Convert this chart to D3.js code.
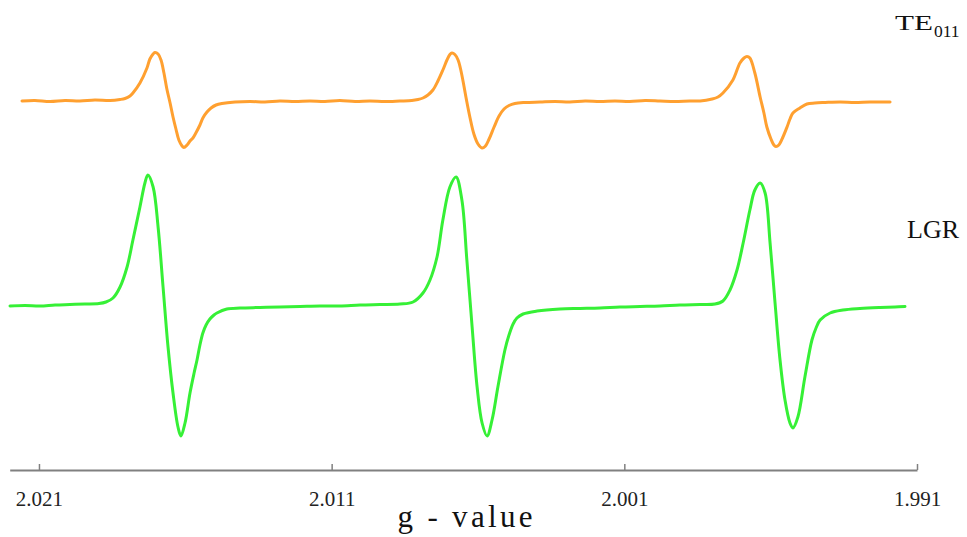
<!DOCTYPE html>
<html>
<head>
<meta charset="utf-8">
<script src="https://cdn.jsdelivr.net/npm/d3@7"></script>
<style>
  html, body { margin: 0; padding: 0; background: #fff; }
  svg { display: block; }
  .lbl { font-family: "Liberation Serif", "Times New Roman", "DejaVu Serif", serif; }
</style>
</head>
<body>
<svg id="chart" width="967" height="537"></svg>
<script>
// ---- data (g-value, intensity in a.u.) ----
const seriesNames = ["TE011", "LGR"];
const seriesColors = ["#ffa030", "#36f036"];
const seriesOffsets = [204, 0];

const teG = [2.02158,2.02114,2.02062,2.02011,2.01960,2.01909,2.01857,2.01823,2.01806,2.01789,2.01779,2.01755,2.01731,2.01721,2.01710,2.01704,2.01693,2.01683,2.01673,2.01663,2.01652,2.01642,2.01632,2.01622,2.01611,2.01605,2.01594,2.01584,2.01574,2.01564,2.01550,2.01540,2.01526,2.01512,2.01495,2.01475,2.01430,2.01379,2.01328,2.01277,2.01225,2.01174,2.01123,2.01072,2.01020,2.00969,2.00918,2.00867,2.00826,2.00805,2.00788,2.00771,2.00754,2.00737,2.00720,2.00706,2.00696,2.00689,2.00679,2.00668,2.00658,2.00648,2.00638,2.00627,2.00614,2.00600,2.00586,2.00576,2.00562,2.00545,2.00528,2.00511,2.00494,2.00474,2.00439,2.00388,2.00337,2.00286,2.00234,2.00183,2.00132,2.00081,2.00029,1.99978,1.99927,1.99876,1.99841,1.99800,1.99780,1.99763,1.99729,1.99705,1.99691,1.99681,1.99671,1.99654,1.99636,1.99623,1.99613,1.99599,1.99589,1.99582,1.99572,1.99558,1.99544,1.99534,1.99524,1.99500,1.99476,1.99449,1.99414,1.99363,1.99312,1.99261,1.99192];
const teI = [0,0.5,-0.5,0.5,0,1,0.5,1.5,2.5,5,8,18,33,42,47,48.5,47,41,28,12,-2,-16,-28,-39,-45,-46.5,-44,-40,-37,-32,-24,-17,-11,-7,-4,-2.5,-1,-0.5,-1,0,-0.5,0,-0.5,0.5,-0.5,0,-0.5,0,0.5,1.5,3,6,11,20,31,41,46.5,48,46.5,41,30,15,-1,-17,-33,-43,-47,-45.5,-38,-26,-15,-8,-4.5,-2.5,-1.5,-1,-0.5,-1,0,-0.5,0,-0.5,0.5,0,-0.5,0,0,2,4,8,21,38,43,44.5,43,28,4,-12,-26,-38,-44,-45.5,-44,-36,-26,-18,-12,-7,-3,-2,-1.5,-1,-1.5,-1,-1];

const lgrG = [2.02199,2.02148,2.02097,2.02045,2.01994,2.01943,2.01895,2.01871,2.01847,2.01823,2.01799,2.01779,2.01755,2.01738,2.01728,2.01710,2.01693,2.01676,2.01659,2.01642,2.01625,2.01615,2.01601,2.01584,2.01570,2.01560,2.01550,2.01540,2.01529,2.01516,2.01502,2.01492,2.01458,2.01413,2.01345,2.01277,2.01208,2.01140,2.01072,2.01003,2.00935,2.00867,2.00822,2.00788,2.00764,2.00740,2.00720,2.00696,2.00675,2.00655,2.00638,2.00620,2.00603,2.00586,2.00569,2.00552,2.00532,2.00508,2.00494,2.00480,2.00467,2.00446,2.00398,2.00320,2.00251,2.00183,2.00115,2.00046,1.99978,1.99910,1.99841,1.99790,1.99763,1.99739,1.99715,1.99694,1.99671,1.99654,1.99636,1.99619,1.99602,1.99585,1.99568,1.99551,1.99534,1.99524,1.99507,1.99483,1.99459,1.99445,1.99431,1.99397,1.99353,1.99295,1.99226,1.99175,1.99141];
const lgrI = [-1,-0.5,-1,0,0.5,1,1.5,3,7,18,38,65,98,122,130,118,78,18,-42,-88,-122,-131,-118,-88,-68,-55,-40,-28,-20,-14,-10,-8,-4,-3,-2.5,-2,-1.5,-1,-1,0,0.5,1,3,12,25,48,85,118,128,105,45,-22,-82,-118,-131,-115,-82,-45,-30,-19,-13,-9,-6,-4,-3.5,-3,-2,-1.5,-1,0,0.5,1,4,15,35,62,95,115,122,112,62,2,-55,-95,-118,-123,-112,-72,-35,-23,-15,-8,-5,-3.5,-2.5,-2,-1.5];

const tickValues = [2.021, 2.011, 2.001, 1.991];
const xTitle = "g - value";

// ---- scales ----
const svg = d3.select("#chart");
const x = d3.scaleLinear().domain([2.022, 1.991]).range([9.7, 917]);
const y = d3.scaleLinear().domain([-165, 305]).range([470, 0]);

const series = [
  { name: seriesNames[0], color: seriesColors[0], off: seriesOffsets[0], pts: teG.map((g, i) => [g, teI[i]]) },
  { name: seriesNames[1], color: seriesColors[1], off: seriesOffsets[1], pts: lgrG.map((g, i) => [g, lgrI[i]]) }
];

series.forEach(s => {
  const line = d3.line()
    .x(d => x(d[0]))
    .y(d => y(d[1] + s.off))
    .curve(d3.curveCatmullRom.alpha(0.5));
  svg.append("path")
    .datum(s.pts)
    .attr("fill", "none")
    .attr("stroke", s.color)
    .attr("stroke-width", 3)
    .attr("stroke-linejoin", "round")
    .attr("stroke-linecap", "round")
    .attr("d", line);
});

// ---- axis ----
const axis = d3.axisBottom(x)
  .tickValues(tickValues)
  .tickFormat(d3.format(".3f"))
  .tickSizeInner(-6)
  .tickSizeOuter(0)
  .tickPadding(21);

const gAxis = svg.append("g")
  .attr("transform", "translate(0,470)")
  .call(axis)
  .attr("font-family", null);
gAxis.select(".domain").attr("stroke", "#808080").attr("stroke-width", 1.8);
gAxis.selectAll(".tick line").attr("stroke", "#808080").attr("stroke-width", 1.5);
gAxis.selectAll(".tick text")
  .attr("class", "lbl")
  .attr("fill", "#222")
  .style("font-size", "21px");

// ---- axis title ----
svg.append("text")
  .attr("class", "lbl")
  .attr("x", 465)
  .attr("y", 527)
  .attr("text-anchor", "middle")
  .attr("textLength", 135)
  .attr("lengthAdjust", "spacing")
  .style("font-size", "31px")
  .attr("fill", "#111")
  .text(xTitle);

// ---- series labels ----
const te = svg.append("text")
  .attr("class", "lbl")
  .attr("x", 895)
  .attr("y", 30)
  .attr("fill", "#111");
te.append("tspan")
  .style("font-size", "22px")
  .attr("textLength", 38)
  .attr("lengthAdjust", "spacingAndGlyphs")
  .text("TE");
te.append("tspan")
  .style("font-size", "17.5px")
  .attr("dx", 1)
  .attr("dy", 7)
  .text("011");

svg.append("text")
  .attr("class", "lbl")
  .attr("x", 907)
  .attr("y", 238)
  .style("font-size", "26px")
  .attr("fill", "#111")
  .text(seriesNames[1]);
</script>
</body>
</html>
